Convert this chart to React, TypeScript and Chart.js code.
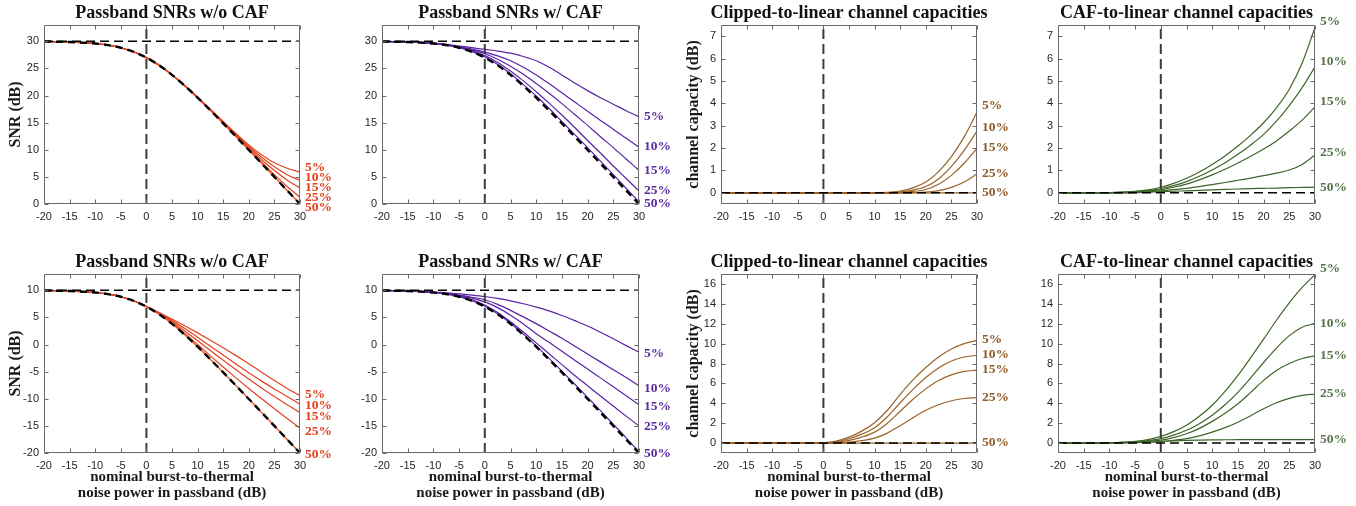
import React, { useEffect, useRef } from 'react';
import { Chart, registerables } from 'chart.js';

Chart.register(...registerables);

// Nominal burst-to-thermal noise power in passband (dB), sample grid shared by all curves
const xValues = [-20, -17.5, -15, -12.5, -10, -7.5, -5, -2.5, 0, 2.5, 5, 7.5, 10, 12.5, 15, 17.5, 20, 22.5, 25, 27.5, 30];
const xTicks = [-20, -15, -10, -5, 0, 5, 10, 15, 20, 25, 30];
const shareLabels = ['5%', '10%', '15%', '25%', '50%'];

const snrHiTicks = [0, 5, 10, 15, 20, 25, 30];
const snrLoTicks = [-20, -15, -10, -5, 0, 5, 10];
const capHiTicks = [0, 1, 2, 3, 4, 5, 6, 7];
const capLoTicks = [0, 2, 4, 6, 8, 10, 12, 14, 16];

const snrHiLimits = [0, 33];
const snrLoLimits = [-20, 13];
const capHiLimits = [-0.5, 7.5];
const capLoLimits = [-1, 17];

// Reference levels (dashed black)
const snrHiRef = 30;
const snrLoRef = 10;
const capRef = 0;
const burstRef = 0;

// Linear-receiver SNR (dashed black curve)
const linRef30 = [29.96, 29.92, 29.86, 29.76, 29.59, 29.29, 28.81, 28.06, 26.99, 25.56, 23.81, 21.79, 19.59, 17.26, 14.86, 12.42, 9.96, 7.48, 4.99, 2.49, 0.0];
const linRef10 = [9.96, 9.92, 9.86, 9.76, 9.59, 9.29, 8.81, 8.06, 6.99, 5.56, 3.81, 1.79, -0.41, -2.74, -5.14, -7.58, -10.04, -12.52, -15.01, -17.51, -20.0];

// Passband SNR without CAF, 30 dB nominal
const clip30_5 = [29.96, 29.92, 29.86, 29.76, 29.59, 29.29, 28.81, 28.06, 26.99, 25.56, 23.81, 21.79, 19.7, 17.47, 15.23, 13.0, 10.9, 9.1, 7.6, 6.6, 5.86];
const clip30_10 = [29.96, 29.92, 29.86, 29.76, 29.59, 29.29, 28.81, 28.06, 26.99, 25.56, 23.81, 21.79, 19.65, 17.39, 15.09, 12.82, 10.64, 8.62, 6.86, 5.41, 4.32];
const clip30_15 = [29.96, 29.92, 29.86, 29.76, 29.59, 29.29, 28.81, 28.06, 26.99, 25.56, 23.81, 21.79, 19.61, 17.33, 14.99, 12.65, 10.36, 8.17, 6.16, 4.4, 2.96];
const clip30_25 = [29.96, 29.92, 29.86, 29.76, 29.59, 29.29, 28.81, 28.06, 26.99, 25.56, 23.81, 21.79, 19.59, 17.26, 14.9, 12.5, 10.1, 7.72, 5.42, 3.23, 1.23];
const clip30_50 = [29.96, 29.92, 29.86, 29.76, 29.59, 29.29, 28.81, 28.06, 26.99, 25.56, 23.81, 21.79, 19.59, 17.26, 14.86, 12.42, 9.96, 7.48, 4.99, 2.49, 0.0];

// Passband SNR with CAF, 30 dB nominal
const caf30_5 = [29.96, 29.93, 29.88, 29.8, 29.67, 29.45, 29.12, 28.82, 28.5, 28.2, 27.8, 27.2, 26.4, 25.2, 23.8, 22.3, 20.9, 19.6, 18.4, 17.2, 16.1];
const caf30_10 = [29.96, 29.92, 29.87, 29.78, 29.64, 29.4, 29.0, 28.55, 28.0, 27.3, 26.4, 25.2, 23.8, 22.2, 20.5, 18.8, 17.1, 15.4, 13.8, 12.1, 10.5];
const caf30_15 = [29.96, 29.92, 29.87, 29.78, 29.63, 29.38, 28.95, 28.4, 27.7, 26.7, 25.4, 23.9, 22.2, 20.4, 18.5, 16.5, 14.5, 12.4, 10.4, 8.3, 6.2];
const caf30_25 = [29.96, 29.92, 29.86, 29.77, 29.61, 29.34, 28.88, 28.22, 27.35, 26.1, 24.5, 22.7, 20.7, 18.6, 16.4, 14.1, 11.7, 9.4, 7.0, 4.7, 2.4];
const caf30_50 = [29.96, 29.92, 29.86, 29.76, 29.59, 29.3, 28.83, 28.1, 27.1, 25.7, 24.0, 22.0, 19.9, 17.6, 15.2, 12.8, 10.4, 7.9, 5.4, 2.9, 0.4];

// Clipped-to-linear capacity gain, 30 dB nominal
const capClip30_5 = [0, 0, 0, 0, 0, 0, 0, 0, 0, 0, 0, 0, 0, 0.02, 0.08, 0.22, 0.48, 0.95, 1.62, 2.5, 3.61];
const capClip30_10 = [0, 0, 0, 0, 0, 0, 0, 0, 0, 0, 0, 0, 0, 0.01, 0.04, 0.12, 0.28, 0.62, 1.18, 1.9, 2.76];
const capClip30_15 = [0, 0, 0, 0, 0, 0, 0, 0, 0, 0, 0, 0, 0, 0, 0.02, 0.06, 0.15, 0.38, 0.78, 1.32, 1.99];
const capClip30_25 = [0, 0, 0, 0, 0, 0, 0, 0, 0, 0, 0, 0, 0, 0, 0, 0.01, 0.03, 0.1, 0.24, 0.48, 0.85];
const capClip30_50 = [0, 0, 0, 0, 0, 0, 0, 0, 0, 0, 0, 0, 0, 0, 0, 0, 0, 0, 0, 0, 0];

// CAF-to-linear capacity gain, 30 dB nominal
const capCaf30_5 = [0, 0, 0, 0.005, 0.01, 0.03, 0.06, 0.13, 0.25, 0.42, 0.65, 0.93, 1.27, 1.65, 2.09, 2.58, 3.13, 3.8, 4.63, 5.8, 7.39];
const capCaf30_10 = [0, 0, 0, 0, 0.01, 0.02, 0.05, 0.1, 0.18, 0.32, 0.5, 0.74, 1.02, 1.34, 1.72, 2.14, 2.61, 3.2, 3.9, 4.7, 5.63];
const capCaf30_15 = [0, 0, 0, 0, 0.01, 0.02, 0.04, 0.08, 0.14, 0.25, 0.39, 0.58, 0.8, 1.05, 1.33, 1.63, 1.96, 2.32, 2.76, 3.25, 3.84];
const capCaf30_25 = [0, 0, 0, 0, 0, 0.01, 0.02, 0.05, 0.09, 0.14, 0.2, 0.28, 0.37, 0.46, 0.56, 0.66, 0.77, 0.88, 1.02, 1.27, 1.69];
const capCaf30_50 = [0, 0, 0, 0, 0, 0, 0.01, 0.03, 0.05, 0.07, 0.09, 0.11, 0.13, 0.15, 0.17, 0.19, 0.2, 0.21, 0.23, 0.24, 0.25];

// Passband SNR without CAF, 10 dB nominal
const clip10_5 = [9.96, 9.92, 9.86, 9.76, 9.59, 9.29, 8.81, 8.06, 7.0, 5.9, 4.7, 3.45, 2.15, 0.8, -0.6, -2.05, -3.55, -5.1, -6.65, -8.1, -9.44];
const clip10_10 = [9.96, 9.92, 9.86, 9.76, 9.59, 9.29, 8.81, 8.06, 7.0, 5.8, 4.45, 2.95, 1.35, -0.3, -1.95, -3.6, -5.2, -6.75, -8.2, -9.6, -11.0];
const clip10_15 = [9.96, 9.92, 9.86, 9.76, 9.59, 9.29, 8.81, 8.06, 7.0, 5.7, 4.2, 2.5, 0.7, -1.1, -2.9, -4.65, -6.35, -8.0, -9.6, -11.1, -12.53];
const clip10_25 = [9.96, 9.92, 9.86, 9.76, 9.59, 9.29, 8.81, 8.06, 7.0, 5.62, 3.95, 2.05, 0.0, -2.1, -4.15, -6.15, -8.1, -10.0, -11.85, -13.65, -15.43];
const clip10_50 = [9.96, 9.92, 9.86, 9.76, 9.59, 9.29, 8.81, 8.06, 6.99, 5.56, 3.81, 1.79, -0.41, -2.74, -5.14, -7.58, -10.04, -12.52, -15.01, -17.51, -20.0];

// Passband SNR with CAF, 10 dB nominal
const caf10_5 = [9.96, 9.93, 9.88, 9.8, 9.68, 9.52, 9.35, 9.12, 8.85, 8.5, 8.05, 7.52, 6.9, 6.2, 5.35, 4.4, 3.4, 2.25, 1.05, -0.2, -1.42];
const caf10_10 = [9.96, 9.92, 9.87, 9.78, 9.64, 9.42, 9.1, 8.72, 8.25, 7.4, 6.3, 5.1, 3.85, 2.5, 1.15, -0.3, -1.75, -3.2, -4.65, -6.1, -7.59];
const caf10_15 = [9.96, 9.92, 9.87, 9.78, 9.63, 9.39, 9.03, 8.55, 7.85, 6.8, 5.4, 3.8, 2.0, 0.4, -1.25, -2.9, -4.5, -6.15, -7.8, -9.45, -11.11];
const caf10_25 = [9.96, 9.92, 9.86, 9.77, 9.61, 9.34, 8.9, 8.25, 7.3, 5.9, 4.2, 2.3, 0.3, -1.7, -3.7, -5.7, -7.6, -9.5, -11.35, -13.2, -15.0];
const caf10_50 = [9.96, 9.92, 9.86, 9.76, 9.59, 9.3, 8.83, 8.1, 7.05, 5.65, 3.92, 1.92, -0.25, -2.55, -4.92, -7.33, -9.76, -12.2, -14.7, -17.2, -19.8];

// Clipped-to-linear capacity gain, 10 dB nominal
const capClip10_5 = [0, 0, 0, 0, 0, 0, 0, 0, 0.03, 0.2, 0.6, 1.2, 2.05, 3.3, 4.9, 6.35, 7.6, 8.65, 9.45, 10.0, 10.33];
const capClip10_10 = [0, 0, 0, 0, 0, 0, 0, 0, 0.02, 0.13, 0.43, 0.9, 1.55, 2.65, 4.05, 5.4, 6.6, 7.55, 8.25, 8.65, 8.83];
const capClip10_15 = [0, 0, 0, 0, 0, 0, 0, 0, 0.01, 0.08, 0.27, 0.6, 1.1, 2.0, 3.2, 4.4, 5.45, 6.3, 6.85, 7.2, 7.33];
const capClip10_25 = [0, 0, 0, 0, 0, 0, 0, 0, 0, 0.02, 0.1, 0.25, 0.5, 1.0, 1.75, 2.55, 3.3, 3.85, 4.25, 4.48, 4.57];
const capClip10_50 = [0, 0, 0, 0, 0, 0, 0, 0, 0, 0, 0, 0, 0, 0, 0, 0, 0, 0, 0, 0, 0];

// CAF-to-linear capacity gain, 10 dB nominal
const capCaf10_5 = [0, 0, 0, 0.01, 0.03, 0.08, 0.17, 0.35, 0.67, 1.15, 1.8, 2.7, 3.8, 5.2, 6.8, 8.6, 10.45, 12.35, 14.1, 15.65, 16.93];
const capCaf10_10 = [0, 0, 0, 0.01, 0.02, 0.06, 0.13, 0.25, 0.45, 0.8, 1.28, 1.95, 2.8, 3.85, 5.1, 6.55, 8.1, 9.55, 10.8, 11.65, 12.03];
const capCaf10_15 = [0, 0, 0, 0, 0.02, 0.05, 0.1, 0.18, 0.3, 0.55, 0.93, 1.48, 2.18, 3.0, 3.95, 5.1, 6.3, 7.3, 8.0, 8.5, 8.77];
const capCaf10_25 = [0, 0, 0, 0, 0.01, 0.03, 0.06, 0.1, 0.15, 0.28, 0.45, 0.72, 1.1, 1.55, 2.1, 2.75, 3.45, 4.05, 4.5, 4.8, 4.93];
const capCaf10_50 = [0, 0, 0, 0, 0.005, 0.02, 0.05, 0.1, 0.16, 0.22, 0.27, 0.3, 0.32, 0.33, 0.34, 0.34, 0.35, 0.35, 0.35, 0.35, 0.35];

// Vertical positions of the share labels beside each panel (in y-axis units)
const labelPosClip30 = [6.8, 4.94, 3.09, 1.23, -0.62];
const labelPosCaf30 = [16.1, 10.56, 6.23, 2.41, 0.06];
const labelPosCapClip30 = [3.88, 2.94, 2.04, 0.85, 0.03];
const labelPosCapCaf30 = [7.64, 5.85, 4.1, 1.82, 0.25];
const labelPosClip10 = [-9.14, -11.3, -13.27, -16.11, -20.37];
const labelPosCaf10 = [-1.6, -8.02, -11.48, -15.12, -20.12];
const labelPosCapClip10 = [10.37, 8.87, 7.37, 4.6, 0.1];
const labelPosCapCaf10 = [17.6, 12.03, 8.77, 5.03, 0.37];

const titleNoCaf = 'Passband SNRs w/o CAF';
const titleCaf = 'Passband SNRs w/ CAF';
const titleCapClip = 'Clipped-to-linear channel capacities';
const titleCapCaf = 'CAF-to-linear channel capacities';
const yTitleSnr = 'SNR (dB)';
const yTitleCap = 'channel capacity (dB)';
const xTitleLines = ['nominal burst-to-thermal', 'noise power in passband (dB)'];

// Palette
const RED = { line: '#e3431f', text: '#e0421e' };
const PURPLE = { line: '#5a22a6', text: '#5b2aa0' };
const BROWN = { line: '#9a6228', text: '#8d5b25' };
const GREEN = { line: '#3d6528', text: '#58764a' };

// Page geometry
const CANVAS_W = 339;
const CANVAS_H = 253;
const canvasLefts = [0, 339, 678, 1017];
const plotLefts = [44, 382, 721, 1058];
const plotRights = [300, 639, 977, 1315];
const rowTops = [0, 253];
const plotTops = [25, 274];
const PLOT_H = 179;

const SERIF = "'Liberation Serif', 'Times New Roman', serif";
const SANS = "'Liberation Sans', Arial, Helvetica, sans-serif";

type PanelSpec = {
  row: number;
  col: number;
  title: string;
  yTitle: string | null;
  limits: number[];
  yTicks: number[];
  refY: number;
  baseline: number[] | null;
  series: number[][];
  color: { line: string; text: string };
  labelPos: number[];
};

const panels: PanelSpec[] = [
  { row: 0, col: 0, title: titleNoCaf, yTitle: yTitleSnr, limits: snrHiLimits, yTicks: snrHiTicks, refY: snrHiRef, baseline: linRef30, series: [clip30_5, clip30_10, clip30_15, clip30_25, clip30_50], color: RED, labelPos: labelPosClip30 },
  { row: 0, col: 1, title: titleCaf, yTitle: null, limits: snrHiLimits, yTicks: snrHiTicks, refY: snrHiRef, baseline: linRef30, series: [caf30_5, caf30_10, caf30_15, caf30_25, caf30_50], color: PURPLE, labelPos: labelPosCaf30 },
  { row: 0, col: 2, title: titleCapClip, yTitle: yTitleCap, limits: capHiLimits, yTicks: capHiTicks, refY: capRef, baseline: null, series: [capClip30_5, capClip30_10, capClip30_15, capClip30_25, capClip30_50], color: BROWN, labelPos: labelPosCapClip30 },
  { row: 0, col: 3, title: titleCapCaf, yTitle: null, limits: capHiLimits, yTicks: capHiTicks, refY: capRef, baseline: null, series: [capCaf30_5, capCaf30_10, capCaf30_15, capCaf30_25, capCaf30_50], color: GREEN, labelPos: labelPosCapCaf30 },
  { row: 1, col: 0, title: titleNoCaf, yTitle: yTitleSnr, limits: snrLoLimits, yTicks: snrLoTicks, refY: snrLoRef, baseline: linRef10, series: [clip10_5, clip10_10, clip10_15, clip10_25, clip10_50], color: RED, labelPos: labelPosClip10 },
  { row: 1, col: 1, title: titleCaf, yTitle: null, limits: snrLoLimits, yTicks: snrLoTicks, refY: snrLoRef, baseline: linRef10, series: [caf10_5, caf10_10, caf10_15, caf10_25, caf10_50], color: PURPLE, labelPos: labelPosCaf10 },
  { row: 1, col: 2, title: titleCapClip, yTitle: yTitleCap, limits: capLoLimits, yTicks: capLoTicks, refY: capRef, baseline: null, series: [capClip10_5, capClip10_10, capClip10_15, capClip10_25, capClip10_50], color: BROWN, labelPos: labelPosCapClip10 },
  { row: 1, col: 3, title: titleCapCaf, yTitle: null, limits: capLoLimits, yTicks: capLoTicks, refY: capRef, baseline: null, series: [capCaf10_5, capCaf10_10, capCaf10_15, capCaf10_25, capCaf10_50], color: GREEN, labelPos: labelPosCapCaf10 },
];

const toPoints = (ys: number[]) => xValues.map((x, i) => ({ x, y: ys[i] }));

// Box frame with inward ticks on all four sides, panel title and share labels
function makeDecor(spec: PanelSpec) {
  return {
    id: 'panelDecor',
    afterDraw(chart: any) {
      const { ctx, chartArea: a } = chart;
      const xs = chart.scales.x;
      const ys = chart.scales.y;
      const L = Math.round(a.left) + 0.5;
      const R = Math.round(a.right) - 0.5;
      const T = Math.round(a.top) + 0.5;
      const B = Math.round(a.bottom) - 0.5;
      ctx.save();
      ctx.strokeStyle = '#6a6a6a';
      ctx.lineWidth = 1;
      ctx.setLineDash([]);
      ctx.beginPath();
      ctx.rect(L, T, R - L, B - T);
      for (const t of xs.ticks) {
        const px = Math.round(xs.getPixelForValue(t.value)) + 0.5;
        ctx.moveTo(px, B);
        ctx.lineTo(px, B - 4);
        ctx.moveTo(px, T);
        ctx.lineTo(px, T + 4);
      }
      for (const t of ys.ticks) {
        const py = Math.round(ys.getPixelForValue(t.value)) + 0.5;
        ctx.moveTo(L, py);
        ctx.lineTo(L + 4, py);
        ctx.moveTo(R, py);
        ctx.lineTo(R - 4, py);
      }
      ctx.stroke();

      ctx.fillStyle = '#111111';
      ctx.font = `bold 18px ${SERIF}`;
      ctx.textAlign = 'center';
      ctx.textBaseline = 'alphabetic';
      ctx.fillText(spec.title, (a.left + a.right) / 2, a.top - 7);

      ctx.fillStyle = spec.color.text;
      ctx.font = `bold 13.5px ${SERIF}`;
      ctx.textAlign = 'left';
      ctx.textBaseline = 'middle';
      shareLabels.forEach((txt, i) => {
        ctx.fillText(txt, a.right + 5, ys.getPixelForValue(spec.labelPos[i]));
      });
      ctx.restore();
    },
  };
}

function buildConfig(spec: PanelSpec): any {
  const canvasLeft = canvasLefts[spec.col];
  const plotLeft = plotLefts[spec.col];
  const plotRight = plotRights[spec.col];
  const padTop = plotTops[spec.row] - rowTops[spec.row];
  const axisH = spec.row === 1 ? 50 : 20;
  const padBottom = CANVAS_H - padTop - PLOT_H - axisH;
  const axisW = plotLeft - canvasLeft;
  const padRight = canvasLeft + CANVAS_W - plotRight;
  const [yMin, yMax] = spec.limits;

  const datasets: any[] = [];
  // dashed reference lines (drawn on top, so listed first)
  if (spec.baseline) {
    datasets.push({
      data: toPoints(spec.baseline),
      borderColor: '#000000',
      borderWidth: 2.4,
      borderDash: [7, 5],
      pointRadius: 0,
      cubicInterpolationMode: 'monotone',
    });
  }
  datasets.push({
    data: [{ x: xTicks[0], y: spec.refY }, { x: xTicks[xTicks.length - 1], y: spec.refY }],
    borderColor: '#000000',
    borderWidth: 1.6,
    borderDash: [9, 5],
    pointRadius: 0,
  });
  datasets.push({
    data: [{ x: burstRef, y: yMin }, { x: burstRef, y: yMax }],
    borderColor: '#3c3c3c',
    borderWidth: 2,
    borderDash: [10, 5],
    pointRadius: 0,
  });
  spec.series.forEach((s) => {
    datasets.push({
      data: toPoints(s),
      borderColor: spec.color.line,
      borderWidth: 1.2,
      pointRadius: 0,
      cubicInterpolationMode: 'monotone',
    });
  });

  const tickFont = { family: SANS, size: 11 };
  const xTitleFont = { family: SERIF, size: 15, weight: 'bold', lineHeight: '16.5px' };
  const yTitleFont = { family: SERIF, size: 16, weight: 'bold', lineHeight: '17px' };

  return {
    type: 'line',
    data: { datasets },
    plugins: [makeDecor(spec)],
    options: {
      responsive: false,
      animation: false,
      devicePixelRatio: 1,
      events: [],
      layout: { padding: { left: 0, right: padRight, top: padTop, bottom: padBottom } },
      plugins: {
        legend: { display: false },
        tooltip: { enabled: false },
        title: { display: false },
      },
      scales: {
        x: {
          type: 'linear',
          min: xTicks[0],
          max: xTicks[xTicks.length - 1],
          afterBuildTicks: (s: any) => {
            s.ticks = xTicks.map((v) => ({ value: v }));
          },
          afterFit: (s: any) => {
            s.height = axisH;
          },
          grid: { display: false, drawTicks: false },
          border: { display: false },
          ticks: { autoSkip: false, maxRotation: 0, padding: 6, color: '#262626', font: tickFont },
          title: {
            display: spec.row === 1,
            text: xTitleLines,
            color: '#1a1a1a',
            font: xTitleFont,
            padding: { top: 0, bottom: 1.25 },
          },
        },
        y: {
          type: 'linear',
          min: yMin,
          max: yMax,
          afterBuildTicks: (s: any) => {
            s.ticks = spec.yTicks.map((v) => ({ value: v }));
          },
          afterFit: (s: any) => {
            s.width = axisW;
          },
          grid: { display: false, drawTicks: false },
          border: { display: false },
          ticks: { padding: 5, color: '#262626', font: tickFont },
          title: {
            display: !!spec.yTitle,
            text: spec.yTitle || '',
            color: '#1a1a1a',
            font: yTitleFont,
            padding: { top: spec.row === 0 ? 7.5 : 7, bottom: 0 },
          },
        },
      },
    },
  };
}

function Panel({ spec }: { spec: PanelSpec }) {
  const ref = useRef<HTMLCanvasElement>(null);
  useEffect(() => {
    if (!ref.current) return;
    const chart = new Chart(ref.current, buildConfig(spec));
    return () => chart.destroy();
  }, [spec]);
  return (
    <canvas
      ref={ref}
      width={CANVAS_W}
      height={CANVAS_H}
      style={{
        position: 'absolute',
        left: canvasLefts[spec.col],
        top: rowTops[spec.row],
        width: CANVAS_W,
        height: CANVAS_H,
      }}
    />
  );
}

export default function App() {
  return (
    <div
      style={{
        position: 'absolute',
        left: 0,
        top: 0,
        width: 1356,
        height: 506,
        background: '#ffffff',
        overflow: 'hidden',
      }}
    >
      {panels.map((p, i) => (
        <Panel key={i} spec={p} />
      ))}
    </div>
  );
}
